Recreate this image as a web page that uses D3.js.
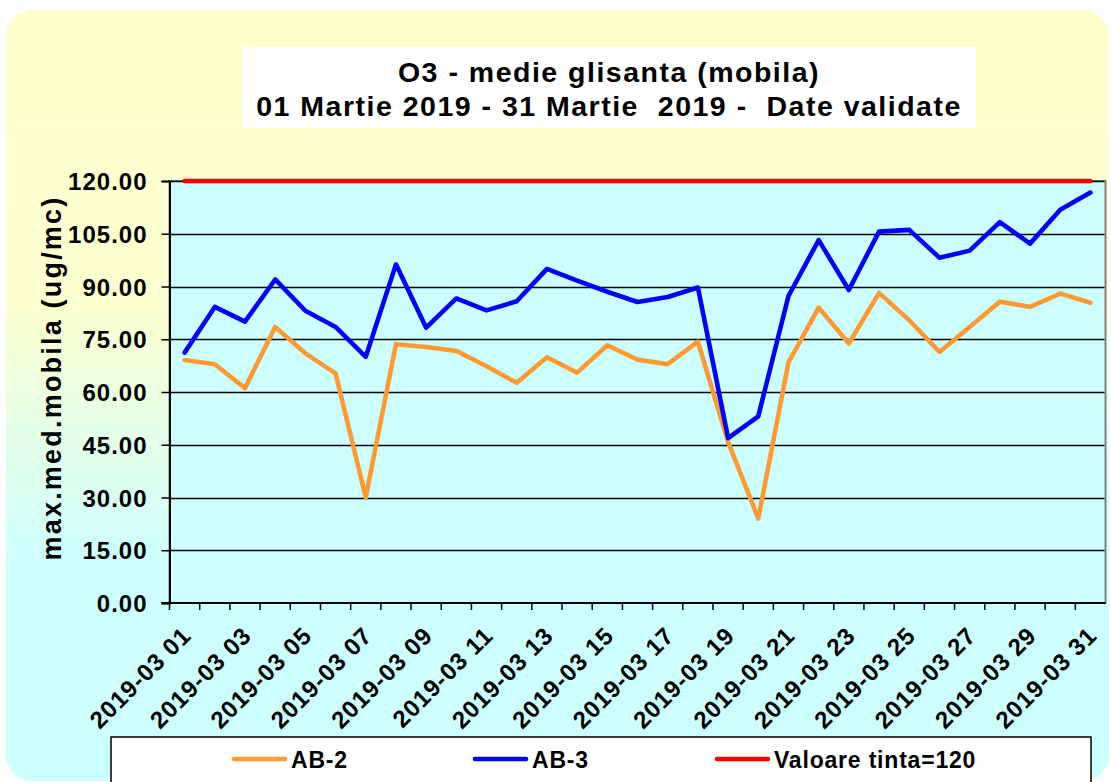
<!DOCTYPE html>
<html>
<head>
<meta charset="utf-8">
<script src="https://cdn.jsdelivr.net/npm/d3@7"></script>
<style>
  body { margin: 0; background: #fff; }
  svg { display: block; font-family: "Liberation Sans", Arial, sans-serif; font-weight: bold; }
</style>
</head>
<body>
<svg></svg>
<script>
var days = ["2019-03 01", "2019-03 02", "2019-03 03", "2019-03 04", "2019-03 05", "2019-03 06",
  "2019-03 07", "2019-03 08", "2019-03 09", "2019-03 10", "2019-03 11", "2019-03 12",
  "2019-03 13", "2019-03 14", "2019-03 15", "2019-03 16", "2019-03 17", "2019-03 18",
  "2019-03 19", "2019-03 20", "2019-03 21", "2019-03 22", "2019-03 23", "2019-03 24",
  "2019-03 25", "2019-03 26", "2019-03 27", "2019-03 28", "2019-03 29", "2019-03 30",
  "2019-03 31"];

var ab2 = [69.1, 67.9, 61.1, 78.5, 71.0, 65.3, 30.0, 73.6, 72.8, 71.7, 67.3, 62.6, 69.9, 65.5,
  73.3, 69.2, 67.9, 74.3, 45.8, 24.0, 68.4, 84.0, 73.8, 88.2, 80.4, 71.4, 78.5, 85.7, 84.2,
  88.0, 85.4];

var ab3 = [71.2, 84.2, 80.0, 92.0, 83.1, 78.5, 70.0, 96.3, 78.3, 86.6, 83.2, 85.8, 95.0, 91.7,
  88.5, 85.6, 87.0, 89.7, 46.9, 53.1, 87.3, 103.2, 89.0, 105.6, 106.1, 98.2, 100.2, 108.3,
  102.2, 111.8, 116.7];

var tinta = [120, 120, 120, 120, 120, 120, 120, 120, 120, 120, 120, 120, 120, 120, 120, 120,
  120, 120, 120, 120, 120, 120, 120, 120, 120, 120, 120, 120, 120, 120, 120];

var seriesNames = ["AB-2", "AB-3", "Valoare tinta=120"];
var yTicks = [0, 15, 30, 45, 60, 75, 90, 105, 120];
var titleLines = ["O3 - medie glisanta (mobila)", "01 Martie 2019 - 31 Martie  2019 -  Date validate"];
var yTitle = "max.med.mobila (ug/mc)";

var chart = (function() {

  var svg = d3.select("svg").attr("width", 1111).attr("height", 782);

  var colors = ["#FF9933", "#0000FF", "#FF0000"];
  var plot = {left: 169.5, right: 1105.5, top: 181, bottom: 603};

  var builder = {

    background: function () {
      var grad = svg.append("defs").append("linearGradient")
        .attr("id", "bg")
        .attr("x1", 0).attr("y1", 0).attr("x2", 0).attr("y2", 1);
      grad.append("stop").attr("offset", 0).attr("stop-color", "#FFFFCC");
      grad.append("stop").attr("offset", 0.38).attr("stop-color", "#FCFFCF");
      grad.append("stop").attr("offset", 0.72).attr("stop-color", "#CCFFFF");
      grad.append("stop").attr("offset", 1).attr("stop-color", "#CCFFFF");

      svg.append("rect")
        .attr("x", 6).attr("y", 10)
        .attr("width", 1103).attr("height", 771)
        .attr("rx", 26)
        .attr("fill", "url(#bg)");

      // title box
      svg.append("rect")
        .attr("x", 242).attr("y", 47)
        .attr("width", 734).attr("height", 81)
        .attr("fill", "#fff");

      svg.append("g")
        .selectAll("text")
        .data(titleLines)
        .enter()
        .append("text")
        .attr("x", 609)
        .attr("y", function(d, i) { return 82 + i * 33.5; })
        .attr("text-anchor", "middle")
        .style("font-size", "28.5px")
        .style("letter-spacing", "1.5px")
        .style("white-space", "pre")
        .text(function(d) { return d; });
    },

    graph: function () {

      var x = d3.scaleBand()
        .domain(days)
        .range([plot.left, plot.right]);
      var bw = x.bandwidth();

      var y = d3.scaleLinear()
        .domain([0, 120])
        .range([plot.bottom, plot.top]);

      svg.append("rect")
        .attr("x", plot.left).attr("y", plot.top)
        .attr("width", plot.right - plot.left)
        .attr("height", plot.bottom - plot.top)
        .attr("fill", "#CCFFFF")
        .attr("stroke", "#808080")
        .attr("stroke-width", 2);

      svg.append("g")
        .selectAll("line")
        .data(yTicks.filter(function(d) { return d > 0; }))
        .enter()
        .append("line")
        .attr("x1", plot.left).attr("x2", plot.right - 1)
        .attr("y1", function(d) { return Math.round(y(d)) + 0.5; })
        .attr("y2", function(d) { return Math.round(y(d)) + 0.5; })
        .attr("stroke", "#000")
        .attr("stroke-width", 1.3);

      var yAxis = d3.axisLeft(y)
        .tickValues(yTicks)
        .tickFormat(d3.format(".2f"))
        .tickSize(8)
        .tickPadding(14);

      var ya = svg.append("g")
        .attr("class", "y-axis")
        .attr("transform", "translate(" + plot.left + ",0)")
        .call(yAxis);
      ya.select(".domain").attr("stroke", "#000").attr("stroke-width", 2);
      ya.selectAll(".tick line").attr("stroke", "#000").attr("stroke-width", 1.5);
      ya.selectAll(".tick text")
        .attr("fill", "#000")
        .attr("dy", "0.36em")
        .style("font-size", "24px")
        .style("font-family", "'Liberation Sans', Arial, sans-serif")
        .style("font-weight", "bold")
        .style("letter-spacing", "1px");

      // x axis: ticks on category boundaries, labels every second day
      var xa = svg.append("g").attr("class", "x-axis");
      xa.append("line")
        .attr("x1", plot.left - 8).attr("x2", plot.right)
        .attr("y1", plot.bottom).attr("y2", plot.bottom)
        .attr("stroke", "#000").attr("stroke-width", 2);

      xa.selectAll(".xt")
        .data(days)
        .enter()
        .append("line")
        .attr("class", "xt")
        .attr("x1", function(d) { return x(d); })
        .attr("x2", function(d) { return x(d); })
        .attr("y1", plot.bottom).attr("y2", plot.bottom + 7)
        .attr("stroke", "#000").attr("stroke-width", 1.5);

      xa.selectAll(".xl")
        .data(days.filter(function(d, i) { return i % 2 === 0; }))
        .enter()
        .append("text")
        .attr("class", "xl")
        .attr("text-anchor", "end")
        .attr("transform", function(d) {
          return "translate(" + (x(d) + bw / 2 + 8) + ",637) rotate(-45)";
        })
        .style("font-size", "24px")
        .style("letter-spacing", "1px")
        .text(function(d) { return d; });

      var line = d3.line()
        .x(function(d, i) { return x(days[i]) + bw / 2; })
        .y(function(d) { return y(d); });

      svg.append("g")
        .selectAll("path")
        .data([ab2, ab3, tinta])
        .enter()
        .append("path")
        .attr("d", line)
        .attr("fill", "none")
        .attr("stroke", function(d, i) { return colors[i]; })
        .attr("stroke-width", 4.6)
        .attr("stroke-linejoin", "round")
        .attr("stroke-linecap", "round");

      svg.append("text")
        .attr("transform", "translate(61,378) rotate(-90)")
        .attr("text-anchor", "middle")
        .style("font-size", "27px")
        .style("letter-spacing", "2.2px")
        .text(yTitle);
    },

    legend: function () {
      var lg = svg.append("g");
      lg.append("rect")
        .attr("x", 111).attr("y", 737)
        .attr("width", 980).attr("height", 70)
        .attr("fill", "#fff")
        .attr("stroke", "#000")
        .attr("stroke-width", 1.5);

      var starts = [232, 473, 715];
      var item = lg.selectAll(".item")
        .data(seriesNames)
        .enter()
        .append("g")
        .attr("class", "item")
        .attr("transform", function(d, i) { return "translate(" + starts[i] + ",759)"; });

      item.append("line")
        .attr("x1", 2).attr("x2", 53)
        .attr("stroke", function(d, i) { return colors[i]; })
        .attr("stroke-width", 4.6)
        .attr("stroke-linecap", "round");

      item.append("text")
        .attr("x", 59)
        .attr("y", 8.5)
        .style("font-size", "23px")
        .style("letter-spacing", "0.8px")
        .text(function(d) { return d; });
    }
  };

  return {
    draw: function () {
      builder.background();
      builder.graph();
      builder.legend();
    }
  };
})();

chart.draw();
</script>
</body>
</html>
